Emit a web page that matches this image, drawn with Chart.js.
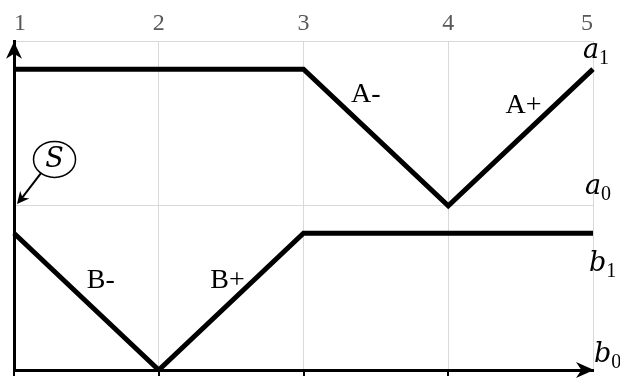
<!DOCTYPE html>
<html>
<head>
<meta charset="utf-8">
<script src="https://cdn.jsdelivr.net/npm/chart.js@4/dist/chart.umd.min.js"></script>
<style>
  html, body { margin: 0; padding: 0; background: #fff; }
  #wrap { width: 620px; height: 380px; }
</style>
</head>
<body>
<div id="wrap"><canvas id="steps-chart"></canvas></div>
<script>
// step numbers and cylinder positions
const steps = ["1", "2", "3", "4", "5"];
const cylA = [2.2, 2.2, 2.2, 1.2, 2.2];
const cylB = [1, 0, 1, 1, 1];
const gridLevels = [0, 1.2, 2.4];
const levelNames = ["a", "a", "b", "b"];
const levelSubs = ["1", "0", "1", "0"];
const levelValues = [2.2, 1.2, 1, 0];
const moveNames = ["A-", "A+", "B-", "B+"];

// where the labels sit (data coords / pixel nudges)
const moveAt = [[2.43, 2.01], [3.52, 1.93], [0.60, 0.65], [1.475, 0.65]];
const levelNudge = [[-10, -11], [-8, -12], [-4, 38], [1, -8]];

const serif = "'Liberation Serif', 'DejaVu Serif', serif";
const mathSerif = "'DejaVu Serif', 'Liberation Serif', serif";

function arrowHead(ctx, tx, ty, angle, len, half) {
  ctx.save();
  ctx.translate(tx, ty);
  ctx.rotate(angle);
  ctx.beginPath();
  ctx.moveTo(0, 0);
  ctx.lineTo(-len, -half);
  ctx.lineTo(-len * 0.7, 0);
  ctx.lineTo(-len, half);
  ctx.closePath();
  ctx.fill();
  ctx.restore();
}

const decorations = {
  id: "decorations",
  afterDatasetsDraw(chart) {
    const ctx = chart.ctx;
    const x = chart.scales.x;
    const y = chart.scales.y;
    const area = chart.chartArea;
    ctx.save();
    ctx.fillStyle = "#000";
    ctx.strokeStyle = "#000";

    // axis arrows
    arrowHead(ctx, area.left, area.top, -Math.PI / 2, 17, 8);
    arrowHead(ctx, area.right + 1, area.bottom, 0, 18, 8);

    // movement labels
    ctx.font = "28px " + serif;
    ctx.textAlign = "center";
    ctx.textBaseline = "middle";
    moveNames.forEach((t, i) => {
      ctx.fillText(t, x.getPixelForValue(moveAt[i][0]), y.getPixelForValue(moveAt[i][1]));
    });

    // level labels on the right
    ctx.textAlign = "left";
    ctx.textBaseline = "alphabetic";
    levelNames.forEach((t, i) => {
      const px = x.getPixelForValue(4) + levelNudge[i][0];
      const py = y.getPixelForValue(levelValues[i]) + levelNudge[i][1];
      ctx.font = "italic 27px " + mathSerif;
      ctx.fillText(t, px, py);
      const w = ctx.measureText(t).width;
      ctx.font = "20px " + serif;
      ctx.fillText(levelSubs[i], px + w, py + 6);
    });

    // start signal S
    const cx = x.getPixelForValue(0.28);
    const cy = y.getPixelForValue(1.54);
    ctx.lineWidth = 1.5;
    ctx.beginPath();
    ctx.ellipse(cx, cy, 21, 18, 0, 0, Math.PI * 2);
    ctx.stroke();
    ctx.font = "italic 27px " + mathSerif;
    ctx.textAlign = "center";
    ctx.textBaseline = "middle";
    ctx.fillText("S", cx, cy + 1);

    const tx = x.getPixelForValue(0) + 3;
    const ty = y.getPixelForValue(1.2) - 2;
    const ang = Math.atan2(ty - cy, tx - cx);
    const sx = cx + 21 * Math.cos(ang);
    const sy = cy + 18 * Math.sin(ang);
    ctx.lineWidth = 2;
    ctx.beginPath();
    ctx.moveTo(sx, sy);
    ctx.lineTo(tx - 6 * Math.cos(ang), ty - 6 * Math.sin(ang));
    ctx.stroke();
    arrowHead(ctx, tx, ty, ang, 12, 6);

    ctx.restore();
  },
};

new Chart(document.getElementById("steps-chart"), {
  type: "line",
  data: {
    labels: steps,
    datasets: [
      { label: "A", data: cylA, xAxisID: "x", yAxisID: "y" },
      { label: "B", data: cylB, xAxisID: "x", yAxisID: "y" },
    ],
  },
  options: {
    responsive: true,
    maintainAspectRatio: false,
    animation: false,
    layout: { padding: { top: 5, left: 14, right: 27, bottom: 4 } },
    elements: {
      line: { borderColor: "#000", borderWidth: 5, tension: 0, borderJoinStyle: "miter", fill: false },
      point: { radius: 0, hoverRadius: 0 },
    },
    plugins: { legend: { display: false }, tooltip: { enabled: false } },
    scales: {
      x: {
        type: "category",
        position: "top",
        offset: false,
        grid: { color: "#d9d9d9", lineWidth: 1, drawTicks: false },
        border: { color: "#d9d9d9", width: 1 },
        ticks: { color: "#595959", font: { family: serif, size: 24 }, padding: 4, align: "inner", maxRotation: 0 },
      },
      x2: {
        type: "category",
        position: "bottom",
        offset: false,
        grid: {
          drawOnChartArea: false,
          tickLength: 6,
          lineWidth: 2,
          color: (c) => (c.index === steps.length - 1 ? "rgba(0,0,0,0)" : "#000"),
        },
        border: { color: "#000", width: 3 },
        ticks: { display: false },
      },
      y: {
        min: 0,
        max: 2.4,
        afterBuildTicks: (scale) => {
          scale.ticks = gridLevels.map((v) => ({ value: v }));
        },
        grid: { color: "#d9d9d9", lineWidth: 1, drawTicks: false },
        border: { color: "#000", width: 3 },
        ticks: { display: false },
      },
    },
  },
  plugins: [decorations],
});
</script>
</body>
</html>
